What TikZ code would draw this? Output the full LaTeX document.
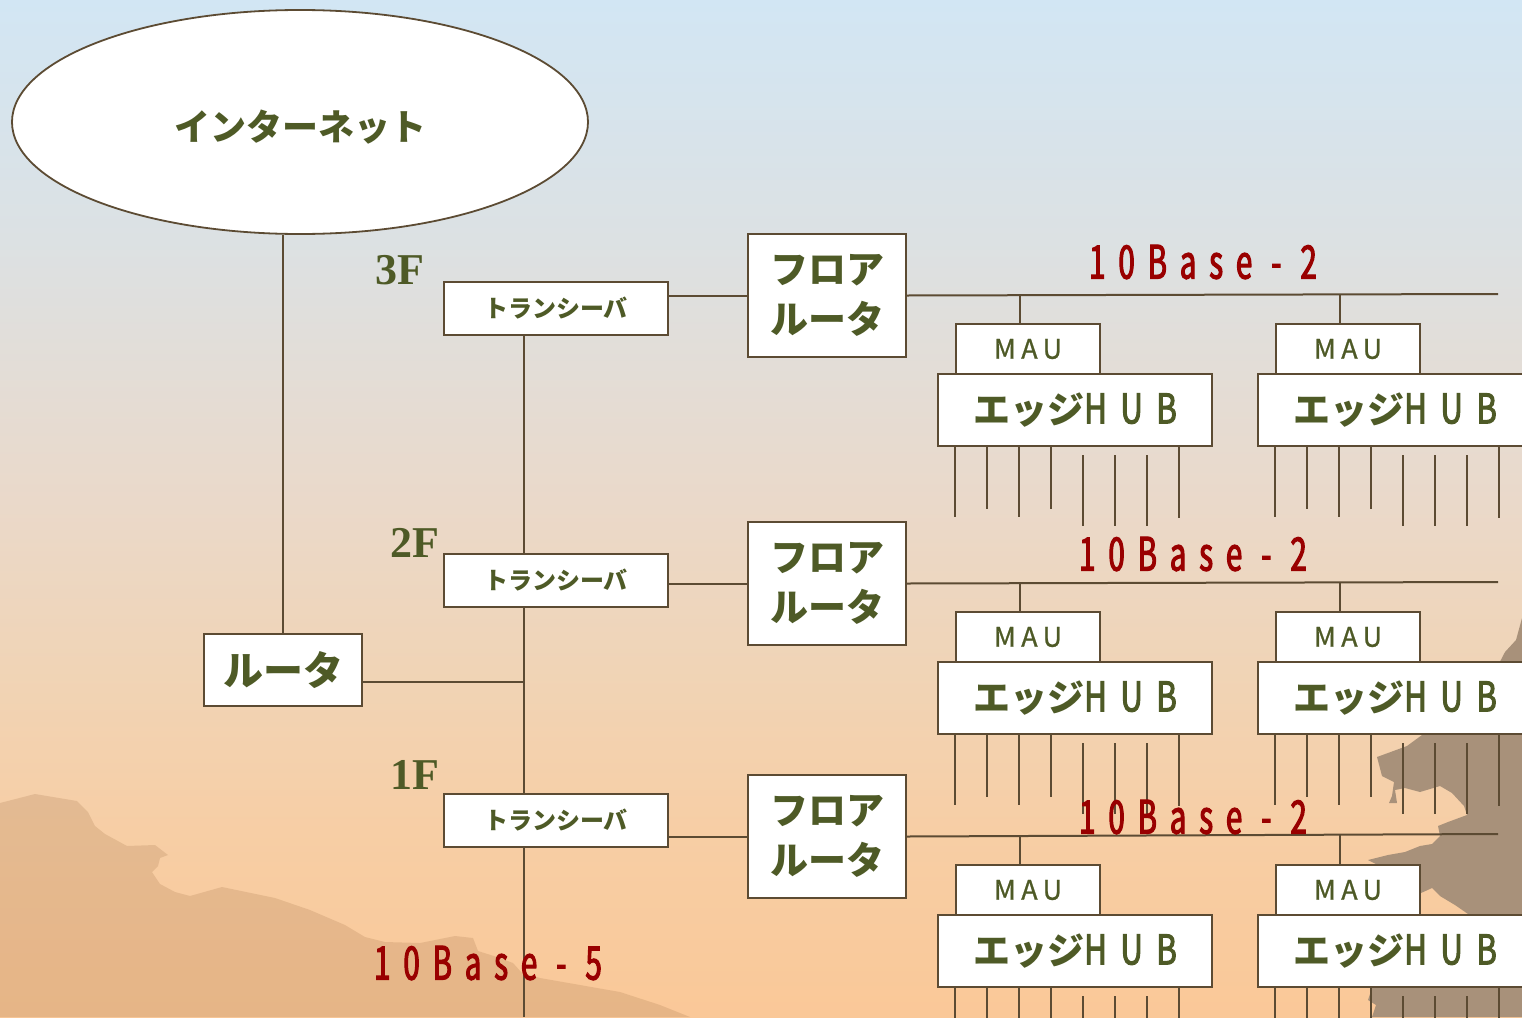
\documentclass[tikz,border=0pt]{standalone}
\usepackage{fontspec}
\usetikzlibrary{shapes.geometric,calc}
\newfontfamily\jp{Noto Sans CJK JP}
\newfontfamily\spaced[FakeStretch=0.64,LetterSpace=28,FakeBold=2.5]{Noto Sans CJK JP}
\newfontfamily\hubl[FakeStretch=0.76,LetterSpace=33,FakeBold=2.5]{Noto Sans CJK JP}
\newfontfamily\maul[LetterSpace=20,FakeBold=0.8]{Noto Sans CJK JP}
\newfontfamily\flr{Liberation Serif}
\definecolor{lc}{HTML}{5C4B33}
\definecolor{tg}{HTML}{4E5A26}
\definecolor{tred}{HTML}{990000}
\definecolor{hillc}{HTML}{9A6A40}
\definecolor{pagoda}{HTML}{A8917A}
\definecolor{bgT}{HTML}{D2E6F4}
\definecolor{bgA}{HTML}{DCE1E3}
\definecolor{bgB}{HTML}{EAD9CA}
\definecolor{bgC}{HTML}{F0D4B6}
\definecolor{bgD}{HTML}{F7CEA5}
\definecolor{bgE}{HTML}{FAC898}
\pgfdeclareverticalshading{skyfade}{100bp}{%
  color(0bp)=(bgE); color(25bp)=(bgE); color(34.2bp)=(bgD);
  color(42.1bp)=(bgC); color(50.4bp)=(bgB); color(63.2bp)=(bgA);
  color(75bp)=(bgT); color(100bp)=(bgT)}
% cable name with wider gaps round the dash
\newcommand\cablename[2]{#1\kern19pt-\kern19pt#2}
\begin{document}
\begin{tikzpicture}[x=1pt,y=-1pt,
  box/.style={rectangle,draw=lc,fill=white,line width=2pt,inner sep=0pt},
  wire/.style={draw=lc,line width=2pt},
  jtext/.style={text=tg,font=\jp\bfseries\fontsize{#1}{#1}\selectfont},
  floorlbl/.style={text=tg,font=\flr\bfseries\fontsize{44}{44}\selectfont},
  cable/.style={text=tred,font=\spaced\fontsize{46}{46}\selectfont},
  trx/.style={box,minimum width=224pt,minimum height=53pt,jtext=24},
  frt/.style={box,minimum width=158pt,minimum height=123pt,align=center,
    text=tg,font=\jp\bfseries\fontsize{38}{50}\selectfont},
  maubox/.style={box,minimum width=144pt,minimum height=50pt,text=tg,
    font=\maul\fontsize{27}{27}\selectfont},
  hubbox/.style={box,minimum width=274pt,minimum height=72pt,text=tg,
    font=\jp\bfseries\fontsize{37}{37}\selectfont}
]
% sky
\useasboundingbox (0,0) rectangle (1522,1017);
\clip (0,0) rectangle (1522,1017);
\shade[shading=skyfade] (0,0) rectangle (1522,1017);

% hills, lower left
\fill[hillc,opacity=0.2] (0,803) -- (35,794) -- (77,801) -- (88,812) -- (95,826)
  -- (105,834) -- (127,846) -- (155,845) -- (168,855) -- (160,858) -- (158,866)
  -- (152,872) -- (160,884) -- (175,892) -- (190,896) -- (222,887) -- (275,898)
  -- (310,910) -- (345,925) -- (365,937) -- (385,942) -- (420,943) -- (455,936)
  -- (473,938) -- (478,951) -- (497,957) -- (513,963) -- (522,973) -- (540,978)
  -- (580,985) -- (620,992) -- (660,1005) -- (690,1017) -- (0,1017) -- cycle;

% pagoda, right edge
\fill[pagoda] (1522,618) -- (1516,640) -- (1505,652) -- (1480,700) -- (1422,735)
  -- (1407,746) -- (1377,757) -- (1382,776) -- (1394,782) -- (1392,796)
  -- (1389,803) -- (1397,803) -- (1395,790) -- (1405,788) -- (1420,792)
  -- (1440,786) -- (1452,793) -- (1464,806) -- (1467,815) -- (1448,822)
  -- (1438,826) -- (1440,836) -- (1432,844) -- (1420,846) -- (1405,852)
  -- (1388,855) -- (1368,860) -- (1380,866) -- (1415,870) -- (1421,893)
  -- (1432,888) -- (1440,896) -- (1455,905) -- (1468,914) -- (1380,950)
  -- (1372,988) -- (1368,1000) -- (1376,1005) -- (1372,1017) -- (1522,1017) -- cycle;

% Internet and main router
\node[ellipse,draw=lc,fill=white,line width=1.8pt,minimum width=576pt,
  minimum height=224pt,inner sep=0pt] (inet) at (300,122) {};
\node[jtext=36] (inettxt) at (300,127) {インターネット};
\node[box,minimum width=158pt,minimum height=72pt,jtext=40] (rt) at (283,670) {ルータ};

% transceivers on the backbone
\node[trx] (tr3) at (556,308.5) {トランシーバ};
\node[trx] (tr2) at (556,580.5) {トランシーバ};
\node[trx] (tr1) at (556,820.5) {トランシーバ};
\coordinate (bbend) at (524,1017);
\coordinate (rtport) at (362,682);

% floor routers
\node[frt] (fr3) at (827,295.5) {フロア\\ルータ};
\node[frt] (fr2) at (827,583.5) {フロア\\ルータ};
\node[frt] (fr1) at (827,836.5) {フロア\\ルータ};

% bus ends
\coordinate (bus3) at (1498,294);
\coordinate (bus2) at (1498,582);
\coordinate (bus1) at (1498,834);

% MAUs and edge hubs
\foreach \f/\y in {3/0,2/288,1/541}{
  \node[maubox] (mau\f a) at (1028,349+\y) {MAU};
  \node[maubox] (mau\f b) at (1348,349+\y) {MAU};
  \node[hubbox] (hub\f a) at (1075,410+\y) {エッジ{\hubl\mdseries\fontsize{41}{41}\selectfont HUB}};
  \node[hubbox] (hub\f b) at (1395,410+\y) {エッジ{\hubl\mdseries\fontsize{41}{41}\selectfont HUB}};
  \coordinate (tap\f a) at (1020,294+\y);
  \coordinate (tap\f b) at (1340,294+\y);
}

% connectors
\draw[wire] (rt.north) -- (rt.north |- inet.south);
\draw[wire] (rtport) -- (rtport -| bbend);
\draw[wire] (tr3.south -| bbend) -- (tr2.north -| bbend);
\draw[wire] (tr2.south -| bbend) -- (tr1.north -| bbend);
\draw[wire] (tr1.south -| bbend) -- (bbend);
\foreach \f in {3,2,1}{
  \draw[wire] (fr\f.west) -- (fr\f.west -| tr\f.east);
  \draw[wire] (fr\f.east) -- (bus\f);
  \draw[wire] (tap\f a) -- (tap\f a |- mau\f a.north);
  \draw[wire] (tap\f b) -- (tap\f b |- mau\f b.north);
}
\foreach \h in {hub3a,hub3b,hub2a,hub2b,hub1a,hub1b}{
  \foreach \k/\s/\e in {0/0/70,1/0/62,2/0/70,3/0/62,4/8/79,5/8/79,6/8/79,7/0/71}{
    \draw[wire] ($(\h.south west)+(18+32*\k,\s)$) -- ($(\h.south west)+(18+32*\k,\e)$);
  }
}

% floor and cable labels
\node[floorlbl] (f3) at (400,270) {3F};
\node[floorlbl] (f2) at (415,543) {2F};
\node[floorlbl] (f1) at (415,775) {1F};
\node[cable] (c3) at (1203,262) {\cablename{10Base}{2}};
\node[cable] (c2) at (1193,554) {\cablename{10Base}{2}};
\node[cable] (c1) at (1193,817) {\cablename{10Base}{2}};
\node[cable] (c0) at (488,963) {\cablename{10Base}{5}};
\end{tikzpicture}
\end{document}
